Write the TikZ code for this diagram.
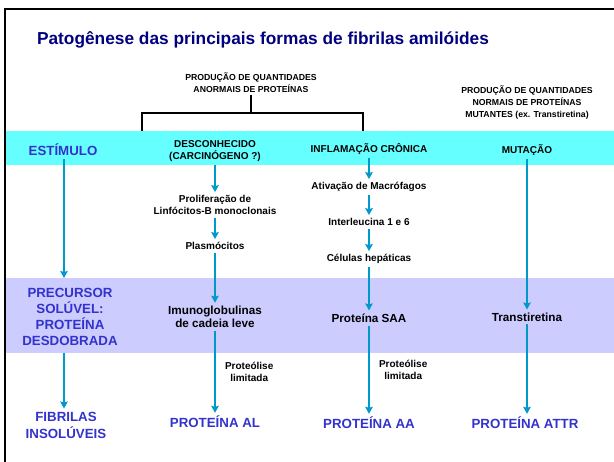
\documentclass[tikz,border=0pt]{standalone}
\usepackage{fontspec}
\setmainfont{Liberation Sans}
\usetikzlibrary{arrows.meta,positioning}
\definecolor{navy}{HTML}{000080}
\definecolor{ink}{HTML}{3333CC}
\definecolor{flow}{HTML}{0099CC}
\definecolor{aqua}{HTML}{66FFFF}
\definecolor{lilac}{HTML}{CCCCFF}
\tikzset{note/.style={align=center,inner sep=2pt,font=\bfseries\fontsize{8.7}{12}\selectfont},step10/.style={note,inner sep=3pt,font=\bfseries\fontsize{10}{12}\selectfont},prot/.style={note,inner sep=3pt,font=\bfseries\fontsize{11.7}{13.5}\selectfont},stage/.style={note,text=ink,inner sep=3pt,font=\bfseries\fontsize{13.3}{16}\selectfont},arr/.style={-{Stealth[length=7pt,width=7.5pt,inset=1pt]},line width=2pt,draw=flow}}

\begin{document}
\begin{tikzpicture}[x=1pt,y=-1pt]
\useasboundingbox (0,0) rectangle (614,462);
\fill[aqua] (5,131) rectangle (614,165);
\fill[lilac] (5,278) rectangle (614,353);
\draw[line width=2pt] (5,462) -- (5,9) -- (614,9);
\node[font=\bfseries\fontsize{17.3}{20}\selectfont,text=navy] (title) at (263,40) {Patogênese das principais formas de fibrilas amilóides};
\node[note] (anorm) at (251,83) {PRODUÇÃO DE QUANTIDADES\\ANORMAIS DE PROTEÍNAS};
\node[note] (normais) at (527,103) {PRODUÇÃO DE QUANTIDADES\\NORMAIS DE PROTEÍNAS\\MUTANTES (ex. Transtiretina)};
\coordinate (bl) at (142,131);
\coordinate (br) at (363,131);
\draw[line width=1.5pt] (anorm.south) -- (anorm.south |- 0,113);
\draw[line width=1.5pt] (bl) -- ++(0,-18) -| (br);
% faixa do estimulo
\node[stage] (estimulo) at (63,150) {ESTÍMULO};
\node[step10] (desconh) at (215,151) {DESCONHECIDO\\(CARCINÓGENO ?)};
\node[step10] (inflam) at (369,149) {INFLAMAÇÃO CRÔNICA};
\node[step10] (mutacao) at (527,150) {MUTAÇÃO};
% cadeia leve
\node[step10] (prolif) at (215,205) {Proliferação de\\Linfócitos-B monoclonais};
\node[step10] (plasmo) at (215,246) {Plasmócitos};
\node[prot] (imuno) at (215,317) {Imunoglobulinas\\de cadeia leve};
\node[stage] (protal) at (215,422) {PROTEÍNA AL};
% inflamacao
\node[step10] (macro) at (369,187) {Ativação de Macrófagos};
\node[step10] (interl) at (369,222) {Interleucina 1 e 6};
\node[step10] (hepat) at (369,259) {Células hepáticas};
\node[prot] (saa) at (369,318) {Proteína SAA};
\node[stage] (protaa) at (369,423) {PROTEÍNA AA};
% mutacao
\node[prot] (transt) at (527,317) {Transtiretina};
\node[stage] (protattr) at (525,423) {PROTEÍNA ATTR};
% coluna da esquerda
\node[stage] (precursor) at (70,317) {PRECURSOR\\SOLÚVEL:\\PROTEÍNA\\DESDOBRADA};
\node[stage,font=\bfseries\fontsize{13.3}{17}\selectfont] (fibrilas) at (66,425) {FIBRILAS\\INSOLÚVEIS};
\draw[arr] (estimulo.south -| 64,0) -- (64,278);
\draw[arr] (64,353) -- (fibrilas.north -| 64,0);
\draw[arr] (desconh) -- (prolif);
\draw[arr] (prolif) -- (plasmo);
\draw[arr] (plasmo) -- (imuno);
\draw[arr] (imuno) -- node[step10,right=6pt] (lise1) {Proteólise\\limitada} (protal);
\draw[arr] (inflam) -- (macro);
\draw[arr] (macro) -- (interl);
\draw[arr] (interl) -- (hepat);
\draw[arr] (hepat) -- (saa);
\draw[arr] (saa) -- node[step10,right=6pt] (lise2) {Proteólise\\limitada} (protaa);
\draw[arr] (mutacao) -- (transt);
\draw[arr] (transt) -- (protattr.north -| transt);
\end{tikzpicture}
\end{document}
